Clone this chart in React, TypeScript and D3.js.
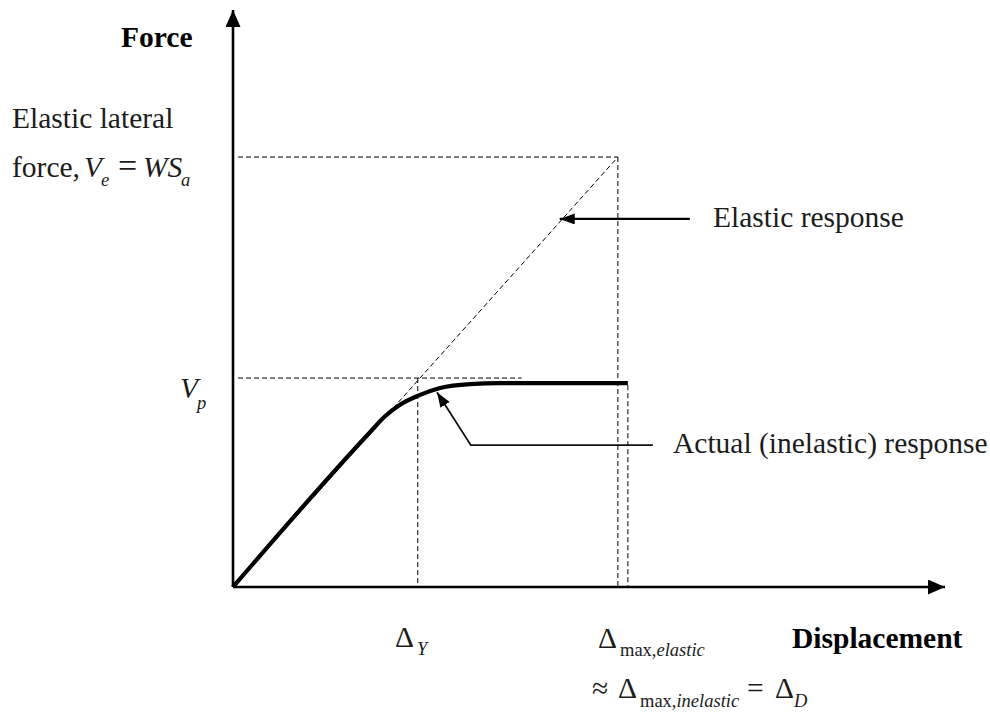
import React from "react";
import * as d3 from "d3";

// ---- data (displacement, force) in arbitrary units ----
const actualDisp = [0, 3.56, 3.95, 4.34, 4.81, 5.38, 6.16, 6.94, 10.26];
const actualForce = [0, 3.6, 3.97, 4.24, 4.45, 4.63, 4.72, 4.74, 4.74];
const elasticDisp = [0, 10];
const elasticForce = [0, 10];
const Ve = 10;
const Vp = 4.86;
const VpDashEnd = 7.5;
const deltaY = 4.8;
const deltaMaxElastic = 10;
const deltaMaxInelastic = 10.26;
const plateau = 4.74;
// annotation arrows: [disp, force]
const elasticArrow: [number, number][] = [[11.87, 8.56], [8.49, 8.56]];
const actualArrow: [number, number][] = [[10.91, 3.3], [6.18, 3.3], [5.3, 4.53]];

const W = 990, H = 713;
const x = d3.scaleLinear().domain([0, 18.5]).range([233, 945]);
const y = d3.scaleLinear().domain([0, 13.42]).range([587, 10]);

const serif = "'Liberation Serif', 'Times New Roman', serif";
const txt = "#1c1c1c";
const FS = 29.5;
const SUB = 18.5;

export default function App() {
  const line = d3.line<[number, number]>().x(d => x(d[0])).y(d => y(d[1]));
  const curve = d3.line<[number, number]>().x(d => x(d[0])).y(d => y(d[1])).curve(d3.curveMonotoneX);
  const actualPts = actualDisp.map((d, i) => [d, actualForce[i]] as [number, number]);
  const elasticPts = elasticDisp.map((d, i) => [d, elasticForce[i]] as [number, number]);
  const dash = "5,3";
  return (
    <svg width={W} height={H} style={{ position: "absolute", left: 0, top: 0, background: "#fff" }}>
      <defs>
        <marker id="axHead" markerUnits="userSpaceOnUse" markerWidth={18} markerHeight={16} refX={17} refY={7.5} orient="auto">
          <path d="M0,0 L17,7.5 L0,15 Z" fill="#000" />
        </marker>
        <marker id="annHead" markerUnits="userSpaceOnUse" markerWidth={16} markerHeight={12} refX={15} refY={5.5} orient="auto">
          <path d="M0,0 L15,5.5 L0,11 Z" fill="#000" />
        </marker>
      </defs>
      {/* dashed guides */}
      <g stroke="#000" strokeWidth={1} strokeDasharray={dash} fill="none">
        <path d={line(elasticPts) || ""} />
        <line x1={x(0) + 5} x2={x(deltaMaxElastic)} y1={y(Ve)} y2={y(Ve)} />
        <line x1={x(0) + 5} x2={x(VpDashEnd)} y1={y(Vp)} y2={y(Vp)} />
        <line x1={x(deltaY)} x2={x(deltaY)} y1={y(Vp)} y2={y(0)} />
        <line x1={x(deltaMaxElastic)} x2={x(deltaMaxElastic)} y1={y(Ve)} y2={y(0)} />
        <line x1={x(deltaMaxInelastic)} x2={x(deltaMaxInelastic)} y1={y(plateau) + 2} y2={y(0)} />
      </g>
      {/* axes */}
      <line x1={x(0)} y1={y(0)} x2={x(0)} y2={y(13.42)} stroke="#000" strokeWidth={2.6} markerEnd="url(#axHead)" />
      <line x1={x(0)} y1={y(0)} x2={x(18.5)} y2={y(0)} stroke="#000" strokeWidth={2.6} markerEnd="url(#axHead)" />
      {/* actual response */}
      <path d={curve(actualPts) || ""} fill="none" stroke="#000" strokeWidth={4.2} strokeLinecap="butt" />
      {/* annotation arrows */}
      <path d={line(elasticArrow) || ""} fill="none" stroke="#000" strokeWidth={2.2} markerEnd="url(#annHead)" />
      <path d={line(actualArrow) || ""} fill="none" stroke="#111" strokeWidth={1.8} markerEnd="url(#annHead)" />
      {/* text */}
      <g fontFamily={serif} fill={txt} fontSize={FS}>
        <text x={121} y={47} fontWeight="bold" fill="#000">Force</text>
        <text x={12} y={128}>Elastic lateral</text>
        <text x={12} y={177}>
          force,
          <tspan x={84} fontStyle="italic">V</tspan>
          <tspan x={101} fontStyle="italic" fontSize={SUB} dy={9}>e</tspan>
          <tspan x={118} dy={-9} fontSize={34}>=</tspan>
          <tspan x={143} fontStyle="italic">WS</tspan>
          <tspan x={181} fontStyle="italic" fontSize={SUB} dy={9}>a</tspan>
        </text>
        <text x={180} y={398}>
          <tspan fontStyle="italic">V</tspan>
          <tspan x={197} fontStyle="italic" fontSize={SUB} dy={11}>p</tspan>
        </text>
        <text x={713} y={227}>Elastic response</text>
        <text x={673} y={453}>Actual (inelastic) response</text>
        <text x={395} y={647}>
          Δ<tspan x={417} fontStyle="italic" fontSize={SUB} dy={8}>Y</tspan>
        </text>
        <text x={598} y={648}>
          Δ<tspan x={620} fontSize={SUB} dy={8}>max,</tspan><tspan fontSize={SUB} fontStyle="italic">elastic</tspan>
        </text>
        <text x={792} y={648} fontWeight="bold" fill="#000">Displacement</text>
        <text x={592} y={698}>
          ≈<tspan x={618}>Δ</tspan>
          <tspan x={640} fontSize={SUB} dy={9}>max,</tspan><tspan fontSize={SUB} fontStyle="italic">inelastic</tspan>
          <tspan x={747} dy={-9}>=</tspan>
          <tspan x={775}>Δ</tspan>
          <tspan x={794} fontSize={SUB} fontStyle="italic" dy={9}>D</tspan>
        </text>
      </g>
    </svg>
  );
}
